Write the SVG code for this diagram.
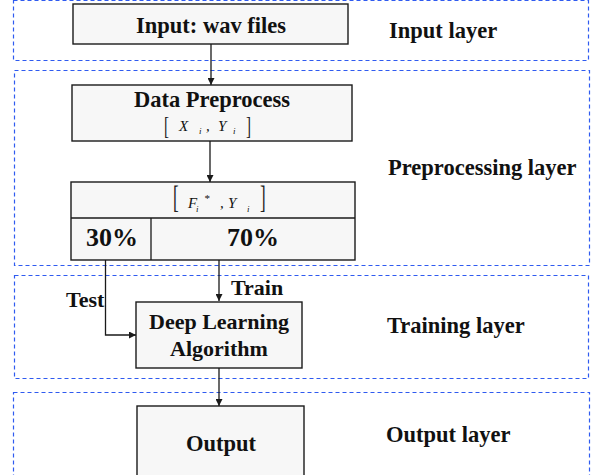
<svg xmlns="http://www.w3.org/2000/svg" width="596" height="475" viewBox="0 0 596 475">
  <style>
    .layer { fill: none; stroke: #2f5bf0; stroke-width: 1.2; stroke-dasharray: 4 3; }
    .box { fill: #f7f7f7; stroke: #1a1a1a; stroke-width: 1.4; }
    .line { fill: none; stroke: #1a1a1a; stroke-width: 1.3; }
    .t { font-family: "Liberation Serif", "Times New Roman", serif; font-weight: bold; fill: #111; }
    .m { font-family: "Liberation Serif", "Times New Roman", serif; font-style: italic; fill: #111; }
    .br { font-family: "Liberation Serif", "Times New Roman", serif; font-weight: normal; fill: #222; }
  </style>
  <defs>
    <marker id="arrow" viewBox="0 0 10 10" refX="10" refY="5" markerWidth="7" markerHeight="7" markerUnits="userSpaceOnUse" orient="auto">
      <path d="M0,0 L10,5 L0,10 z" fill="#1a1a1a"/>
    </marker>
  </defs>

  <rect width="596" height="475" fill="#ffffff"/>

  <!-- layer frames -->
  <g id="layers">
    <rect class="layer" x="13.5" y="0.5" width="575" height="60"/>
    <rect class="layer" x="14.5" y="70.5" width="575" height="195"/>
    <rect class="layer" x="14.5" y="275.5" width="574" height="103"/>
    <rect class="layer" x="13.5" y="392.5" width="576" height="90"/>
  </g>

  <!-- layer labels -->
  <g id="layer-labels">
    <text class="t" x="389" y="38" font-size="22.5">Input layer</text>
    <text class="t" x="388" y="175" font-size="22.5">Preprocessing layer</text>
    <text class="t" x="387" y="333" font-size="22.5">Training layer</text>
    <text class="t" x="386" y="442" font-size="22.5">Output layer</text>
  </g>

  <!-- connectors -->
  <g id="connectors">
    <line class="line" x1="211" y1="44" x2="211" y2="85" marker-end="url(#arrow)"/>
    <line class="line" x1="210" y1="141" x2="210" y2="182" marker-end="url(#arrow)"/>
    <line class="line" x1="219" y1="260" x2="219" y2="301" marker-end="url(#arrow)"/>
    <polyline class="line" points="105.5,260 105.5,335 136,335" marker-end="url(#arrow)"/>
    <line class="line" x1="219" y1="368" x2="219" y2="406" marker-end="url(#arrow)"/>
    <text class="t" x="66" y="307" font-size="22">Test</text>
    <text class="t" x="231" y="295" font-size="22">Train</text>
  </g>

  <g id="input">
    <rect class="box" x="73" y="4" width="275" height="40"/>
    <text class="t" x="211" y="33" font-size="22.5" text-anchor="middle">Input: wav files</text>
  </g>

  <g id="preprocess">
    <rect class="box" x="72" y="85" width="280" height="56"/>
    <text class="t" x="212" y="107" font-size="22.5" text-anchor="middle">Data Preprocess</text>
    <text class="br" x="164" y="134" font-size="25" transform="translate(164 134) scale(0.6 1) translate(-164 -134)">[</text>
    <text class="m" x="179" y="131" font-size="15">X</text>
    <text class="m" x="199" y="134" font-size="9">i</text>
    <text class="m" x="206" y="131" font-size="15">,</text>
    <text class="m" x="218" y="131" font-size="15">Y</text>
    <text class="m" x="233" y="134" font-size="9">i</text>
    <text class="br" x="246" y="134" font-size="25" transform="translate(246 134) scale(0.6 1) translate(-246 -134)">]</text>
  </g>

  <g id="split">
    <rect class="box" x="71" y="182" width="284" height="78"/>
    <line class="line" x1="71" y1="218" x2="355" y2="218"/>
    <line class="line" x1="151" y1="218" x2="151" y2="260"/>
    <text class="br" x="173" y="208" font-size="31" transform="translate(173 208) scale(0.55 1) translate(-173 -208)">[</text>
    <text class="m" x="188" y="208" font-size="15">F</text>
    <text class="m" x="196" y="212" font-size="9">i</text>
    <text class="m" x="204" y="202" font-size="11">*</text>
    <text class="m" x="220" y="208" font-size="15">,</text>
    <text class="m" x="228" y="208" font-size="15">Y</text>
    <text class="m" x="247" y="212" font-size="9">i</text>
    <text class="br" x="260" y="208" font-size="31" transform="translate(260 208) scale(0.55 1) translate(-260 -208)">]</text>
    <text class="t" x="112" y="246" font-size="26" text-anchor="middle">30%</text>
    <text class="t" x="253" y="246" font-size="26" text-anchor="middle">70%</text>
  </g>

  <g id="deep-learning">
    <rect class="box" x="136" y="302" width="166" height="66"/>
    <text class="t" x="219" y="329" font-size="22" text-anchor="middle">Deep Learning</text>
    <text class="t" x="219" y="356" font-size="22" text-anchor="middle">Algorithm</text>
  </g>

  <g id="output">
    <rect class="box" x="137" y="406" width="167" height="80"/>
    <text class="t" x="221" y="451" font-size="22.5" text-anchor="middle">Output</text>
  </g>
</svg>
